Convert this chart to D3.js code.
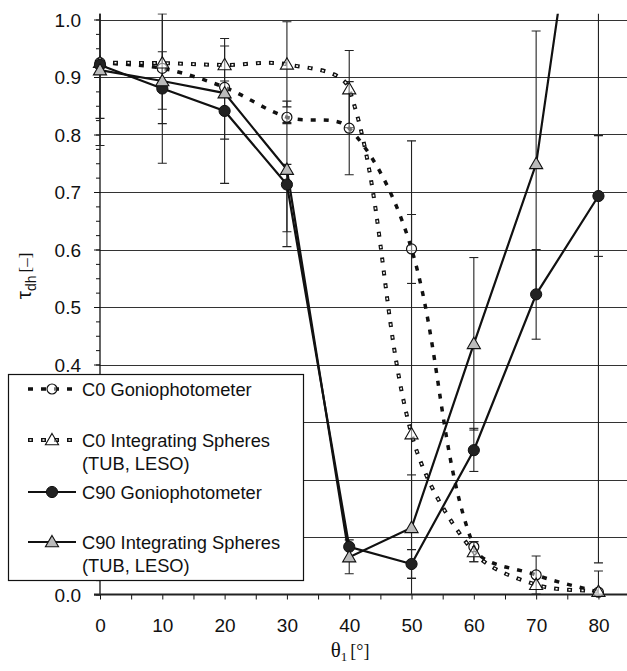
<!DOCTYPE html>
<html>
<head>
<meta charset="utf-8">
<script src="https://cdn.jsdelivr.net/npm/d3@7/dist/d3.min.js"></script>
<style>
  body { margin: 0; background: #fff; }
  svg { display: block; font-family: "Liberation Sans", Arial, sans-serif; }
</style>
</head>
<body>
<div id="chart"></div>
<script>
// incidence angles
const angles = [0, 10, 20, 30, 40, 50, 60, 70, 80];

// tau_dh values per series
const c0Gonio   = [0.925, 0.915, 0.882, 0.830, 0.811, 0.601, 0.083, 0.034, 0.004];
const c0Sphere  = [0.925, 0.924, 0.921, 0.922, 0.879, 0.279, 0.074, 0.017, 0.005];
const c90Gonio  = [0.921, 0.880, 0.841, 0.713, 0.083, 0.053, 0.251, 0.522, 0.693];
const c90Sphere = [0.912, 0.893, 0.872, 0.739, 0.065, 0.116, 0.436, 0.749, 1.500];

// error bar bounds (null = no bar)
const c0GonioLow   = [0.828, 0.819, 0.871, 0.819, 0.730, 0.541, 0.057, 0.001, -0.030];
const c0GonioHigh  = [1.020, 1.010, 0.893, 0.858, 0.892, 0.661, 0.092, 0.067, 0.041];
const c0SphereLow  = [null, null, null, 0.848, 0.812, -0.230, 0.057, null, null];
const c0SphereHigh = [null, null, null, 0.996, 0.946, 0.789, 0.092, null, null];
const c90GonioLow  = [null, 0.750, 0.715, 0.605, null, 0.028, 0.214, 0.444, 0.588];
const c90GonioHigh = [null, 1.010, 0.967, 0.821, null, 0.078, 0.289, 0.600, 0.798];
const c90SphereLow  = [0.781, 0.844, 0.792, 0.631, 0.036, 0.028, 0.286, 0.519, 0.055];
const c90SphereHigh = [1.040, 0.944, 0.954, 0.748, 0.095, 0.208, 0.586, 0.980, 2.900];

const yTicks = [0.0, 0.1, 0.2, 0.3, 0.4, 0.5, 0.6, 0.7, 0.8, 0.9, 1.0];
const xTicks = [0, 10, 20, 30, 40, 50, 60, 70, 80];

const legendLabels = [
  ['C0 Goniophotometer'],
  ['C0 Integrating Spheres', '(TUB, LESO)'],
  ['C90 Goniophotometer'],
  ['C90 Integrating Spheres', '(TUB, LESO)']
];

const width = 627, height = 671;
const svg = d3.select('#chart').append('svg')
  .attr('width', width).attr('height', height);

const x = d3.scaleLinear().domain([0, 85]).range([100, 629.6]);
const y = d3.scaleLinear().domain([0, 1]).range([594.5, 19.5]);
const yTop = y(1.01);

svg.append('defs').append('clipPath').attr('id', 'plot')
  .append('rect').attr('x', 0).attr('y', yTop).attr('width', width).attr('height', y(0) - yTop);

// gridlines
svg.append('g').selectAll('line').data(yTicks.slice(1)).join('line')
  .attr('x1', x(0)).attr('x2', width)
  .attr('y1', d => Math.round(y(d)) + 0.5).attr('y2', d => Math.round(y(d)) + 0.5)
  .attr('stroke', '#333').attr('stroke-width', 1);

// axes
const yAxis = d3.axisLeft(y).tickValues(yTicks).tickSize(6).tickFormat(d3.format('.1f'));
const yMinor = d3.axisLeft(y).tickValues(d3.range(0, 1.001, 0.025)).tickSize(4).tickFormat('');
const xAxis = d3.axisBottom(x).tickValues(xTicks).tickSize(5).tickFormat(d3.format('d'));
const xMinor = d3.axisBottom(x).tickValues(d3.range(5, 85, 10)).tickSize(5).tickFormat('');

const gy = svg.append('g').attr('transform', `translate(${x(0)},0)`).call(yAxis);
svg.append('g').attr('transform', `translate(${x(0)},0)`).call(yMinor);
const gx = svg.append('g').attr('transform', `translate(0,${y(0)})`).call(xAxis);
svg.append('g').attr('transform', `translate(0,${y(0)})`).call(xMinor);
svg.selectAll('.domain').remove();
svg.selectAll('.tick line').attr('stroke', '#111');
gy.selectAll('text').attr('x', -19).attr('font-size', 19).attr('fill', '#111')
  .attr('dy', '0.36em').style('font-family', '"Liberation Sans", Arial, sans-serif');
gx.selectAll('text').attr('y', 24).attr('font-size', 19).attr('fill', '#111')
  .attr('dy', '0.71em').style('font-family', '"Liberation Sans", Arial, sans-serif');

svg.append('line').attr('x1', x(0)).attr('x2', x(0)).attr('y1', yTop).attr('y2', y(0))
  .attr('stroke', '#111').attr('stroke-width', 1.3);
svg.append('line').attr('x1', x(0) - 6).attr('x2', width).attr('y1', y(0)).attr('y2', y(0))
  .attr('stroke', '#222').attr('stroke-width', 2);

const series = [
  { vals: c0Gonio, low: c0GonioLow, high: c0GonioHigh, kind: 'c0g' },
  { vals: c0Sphere, low: c0SphereLow, high: c0SphereHigh, kind: 'c0s' },
  { vals: c90Gonio, low: c90GonioLow, high: c90GonioHigh, kind: 'c90g' },
  { vals: c90Sphere, low: c90SphereLow, high: c90SphereHigh, kind: 'c90s' }
];

const plot = svg.append('g').attr('clip-path', 'url(#plot)');

// error bars
series.forEach(s => {
  const bars = angles.map((a, i) => ({ a, lo: s.low[i], hi: s.high[i] })).filter(d => d.lo !== null);
  const g = plot.append('g').attr('stroke', '#222').attr('stroke-width', 1.1);
  g.selectAll('.v').data(bars).join('line')
    .attr('x1', d => x(d.a)).attr('x2', d => x(d.a))
    .attr('y1', d => y(d.lo)).attr('y2', d => y(d.hi));
  g.selectAll('.lo').data(bars).join('line')
    .attr('x1', d => x(d.a) - 4.5).attr('x2', d => x(d.a) + 4.5)
    .attr('y1', d => y(d.lo)).attr('y2', d => y(d.lo));
  g.selectAll('.hi').data(bars).join('line')
    .attr('x1', d => x(d.a) - 4.5).attr('x2', d => x(d.a) + 4.5)
    .attr('y1', d => y(d.hi)).attr('y2', d => y(d.hi));
});

// spreadsheet-style smoothing: bezier tangents weighted by segment lengths
function smooth(pts) {
  const p = pts.map(d => [x(d[0]), y(d[1])]);
  const dist = (a, b) => Math.hypot(b[0] - a[0], b[1] - a[1]);
  const path = d3.path();
  path.moveTo(p[0][0], p[0][1]);
  for (let i = 0; i < p.length - 1; i++) {
    const p0 = p[Math.max(i - 1, 0)], p1 = p[i], p2 = p[i + 1], p3 = p[Math.min(i + 2, p.length - 1)];
    const d01 = dist(p0, p1), d12 = dist(p1, p2), d23 = dist(p2, p3);
    const w1 = d12 / (d01 + d12) / 3, w2 = d12 / (d12 + d23) / 3;
    path.bezierCurveTo(
      p1[0] + (p2[0] - p0[0]) * w1, p1[1] + (p2[1] - p0[1]) * w1,
      p2[0] - (p3[0] - p1[0]) * w2, p2[1] - (p3[1] - p1[1]) * w2,
      p2[0], p2[1]);
  }
  return path.toString();
}
const straight = d3.line().x(d => x(d[0])).y(d => y(d[1]));

function drawLine(g, kind, d) {
  if (kind === 'c0g') {
    g.append('path').attr('d', d).attr('fill', 'none').attr('stroke', '#111')
      .attr('stroke-width', 3.5).attr('stroke-dasharray', '5,8');
  } else if (kind === 'c0s') {
    g.append('path').attr('d', d).attr('fill', 'none').attr('stroke', '#111')
      .attr('stroke-width', 4).attr('stroke-dasharray', '5,8');
    g.append('path').attr('d', d).attr('fill', 'none').attr('stroke', '#fff')
      .attr('stroke-width', 1.6).attr('stroke-dasharray', '2,11').attr('stroke-dashoffset', -1.5);
  } else {
    g.append('path').attr('d', d).attr('fill', 'none').attr('stroke', '#111')
      .attr('stroke-width', 2.2);
  }
}

const tri = d3.symbol().type(d3.symbolTriangle).size(75);
function drawMarker(g, kind, cx, cy) {
  if (kind === 'c0g') {
    g.append('circle').attr('cx', cx).attr('cy', cy).attr('r', 5)
      .attr('fill', '#fff').attr('fill-opacity', 0.4).attr('stroke', '#111').attr('stroke-width', 1.2);
  } else if (kind === 'c90g') {
    g.append('circle').attr('cx', cx).attr('cy', cy).attr('r', 5.6)
      .attr('fill', '#222').attr('stroke', '#111').attr('stroke-width', 1);
  } else {
    g.append('path').attr('d', tri).attr('transform', `translate(${cx},${cy + 1})`)
      .attr('fill', kind === 'c0s' ? '#fff' : '#bbb').attr('fill-opacity', kind === 'c0s' ? 0.5 : 1)
      .attr('stroke', '#111').attr('stroke-width', 1.1);
  }
}

series.forEach(s => {
  const pts = angles.map((a, i) => [a, s.vals[i]]);
  const path = (s.kind === 'c0g' || s.kind === 'c0s') ? smooth(pts) : straight(pts);
  drawLine(plot, s.kind, path);
});
series.forEach(s => {
  angles.forEach((a, i) => {
    if (s.vals[i] <= 1.01) drawMarker(svg, s.kind, x(a), y(s.vals[i]));
  });
});

// legend
const leg = svg.append('g');
leg.append('rect').attr('x', 8.5).attr('y', 374.5).attr('width', 295).attr('height', 206)
  .attr('fill', '#fff').attr('stroke', '#111').attr('stroke-width', 1.2);
const legY = [389, 440, 492, 542];
series.forEach((s, i) => {
  const ly = legY[i];
  drawLine(leg, s.kind, `M28,${ly}L76,${ly}`);
  drawMarker(leg, s.kind, 52, ly);
  legendLabels[i].forEach((t, j) => {
    leg.append('text').attr('x', 82).attr('y', ly + 6.5 + j * 23.5)
      .attr('font-size', 18.3).attr('fill', '#111').text(t);
  });
});

// axis titles
const yt = svg.append('text').attr('transform', 'translate(31,276) rotate(-90)')
  .attr('text-anchor', 'middle').attr('fill', '#111');
yt.append('tspan').attr('font-size', 21).text('τ');
yt.append('tspan').attr('font-size', 14).attr('dy', 5).text('dh');
yt.append('tspan').attr('font-size', 17).attr('dy', -5).attr('dx', 3)
  .style('font-family', '"Liberation Serif", "Times New Roman", serif').text('[–]');

const xt = svg.append('text').attr('x', 350).attr('y', 657).attr('text-anchor', 'middle')
  .attr('fill', '#111').style('font-family', '"Liberation Serif", "Times New Roman", serif');
xt.append('tspan').attr('font-size', 21).text('θ');
xt.append('tspan').attr('font-size', 13).attr('dy', 4).text('1');
xt.append('tspan').attr('font-size', 18).attr('dy', -4).attr('dx', 3).text('[°]');
</script>
</body>
</html>
